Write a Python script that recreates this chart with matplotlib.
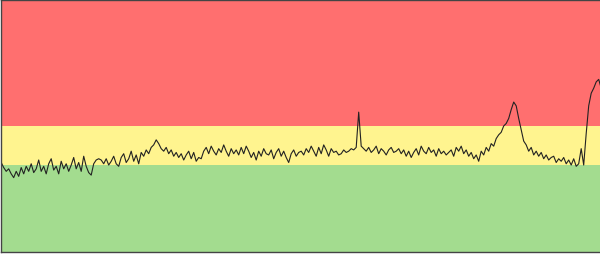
import matplotlib
matplotlib.use("Agg")
import matplotlib.pyplot as plt
import numpy as np

# band thresholds (data units)
green_band = (0, 34.5)
yellow_band = (34.5, 50)
red_band = (50, 100)

seg1 = [35.5, 33.5, 32, 33, 31, 29.5, 32, 30, 33.5, 31, 34, 32, 35, 31.5, 33, 36.5, 32, 34, 31, 35,
        37, 32.5, 34, 31, 36, 33, 35, 32, 34.5, 37.5, 33, 35.5, 32, 38, 34, 31.5, 30.5, 35, 36.5, 37]
seg2 = [36.5, 35, 37, 34.5, 36, 38, 35, 34, 37.5, 39, 35.5, 37, 40, 36, 38.5, 35, 39.5, 38, 40.5, 39,
        41.5, 42.5, 44.5, 43, 41, 40, 41.5, 39, 40.5, 38, 39.5, 37.5, 39, 36.5, 38.5, 40, 37, 39.5, 36, 37.5]
seg3 = [37, 40, 41.5, 39, 42, 40, 38.5, 41, 39.5, 42.5, 40, 38, 41, 39, 40.5, 38.5, 41.5, 39, 42, 40,
        37.5, 39.5, 36.5, 40, 38, 41, 39, 38.5, 40.5, 37, 39.5, 41, 38, 40, 37.5, 35.5, 39, 40.5, 38, 39.5]
seg4 = [40, 38.5, 41, 39.5, 42, 40, 38, 41.5, 39, 42.5, 40.5, 38, 41, 39.5, 40, 38.5, 39, 40.5, 39.5, 40,
        41, 40.5, 41.5, 55.5, 42, 41, 40, 41.5, 39.5, 40.5, 42, 39, 41, 40, 38.5, 40.5, 41.5, 39.5, 40, 41]
seg5 = [39, 40.5, 38, 40, 37.5, 39.5, 41, 38.5, 42, 40, 39, 41.5, 39.5, 40.5, 38, 41, 39, 40, 38.5, 39.5,
        40.5, 38, 41.5, 40, 42, 39, 40.5, 38, 39.5, 37, 38.5, 36, 40, 38.5, 41.5, 40, 43, 42, 45, 46.5]
seg6 = [47.5, 50, 51, 53, 56.5, 59.5, 58, 53, 48.5, 44, 42.5, 40, 41.5, 38.5, 40, 38, 39.5, 37, 38.5, 36.5,
        37.5, 38, 35.5, 37, 36, 37.5, 35, 36.5, 34.5, 37, 34, 35, 41, 34.5, 47, 58, 63, 65, 67.5, 68.5, 65]

values = np.array(seg1 + seg2 + seg3 + seg4 + seg5 + seg6)
x = np.arange(len(values))

fig = plt.figure(figsize=(6.0, 2.55), dpi=100)
ax = fig.add_axes([0.002, 0.008, 1.0, 0.988])
ax.axhspan(*green_band, color="#a3dc8f", lw=0)
ax.axhspan(*yellow_band, color="#fff48f", lw=0)
ax.axhspan(*red_band, color="#ff6f6f", lw=0)
ax.plot(x, values, color="#222222", lw=0.8)
ax.set_xlim(0, len(values) - 1)
ax.set_ylim(0, 100)
ax.set_xticks([])
ax.set_yticks([])
for s in ax.spines.values():
    s.set_color("#444444")
    s.set_linewidth(1.0)
fig.savefig("out.png", dpi=100)
